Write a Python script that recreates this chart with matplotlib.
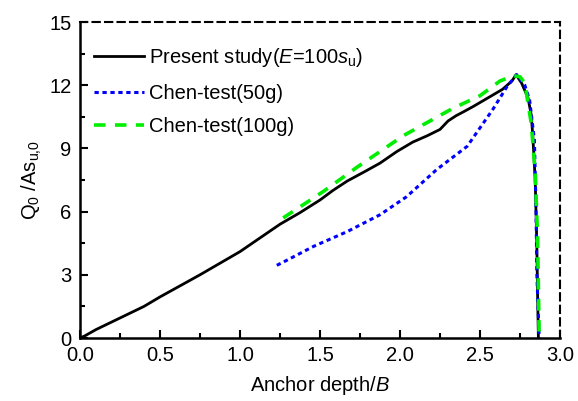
"""Anchor capacity vs depth: present study against Chen centrifuge tests."""

import matplotlib
matplotlib.use("Agg")
import matplotlib.pyplot as plt
from matplotlib.ticker import MultipleLocator

plt.rcParams["font.family"] = ["Liberation Sans", "DejaVu Sans"]
plt.rcParams["mathtext.fontset"] = "custom"
plt.rcParams["mathtext.rm"] = "Liberation Sans"
plt.rcParams["mathtext.it"] = "Liberation Sans:italic"

# Present study (E = 100 s_u)
present_x = [0.0, 0.03, 0.1, 0.25, 0.4, 0.5, 0.75, 1.0, 1.25, 1.375, 1.5, 1.58,
             1.67, 1.78, 1.875, 1.98, 2.08, 2.17, 2.25, 2.3, 2.35, 2.4, 2.46,
             2.55, 2.64, 2.7, 2.725, 2.76, 2.8, 2.82, 2.83, 2.845, 2.855, 2.86,
             2.865]
present_y = [0.0, 0.1, 0.4, 0.95, 1.5, 1.95, 3.0, 4.1, 5.4, 5.95, 6.55, 7.0,
             7.45, 7.9, 8.3, 8.85, 9.3, 9.6, 9.9, 10.3, 10.55, 10.75, 11.0,
             11.4, 11.8, 12.2, 12.5, 12.1, 11.4, 10.6, 9.6, 7.5, 4.5, 2.0, 0.0]

# Chen-test (50g)
chen50_x = [1.23, 1.27, 1.46, 1.67, 1.875, 2.04, 2.23, 2.42, 2.58, 2.67, 2.73,
            2.78, 2.81, 2.84, 2.85, 2.855, 2.87]
chen50_y = [3.45, 3.6, 4.35, 5.05, 5.85, 6.7, 8.0, 9.1, 10.85, 11.95, 12.5,
            12.0, 11.3, 9.4, 6.25, 3.1, 0.0]

# Chen-test (100g)
chen100_x = [1.27, 1.52, 1.73, 2.02, 2.33, 2.5, 2.625, 2.71, 2.75, 2.78, 2.82,
             2.845, 2.86, 2.87]
chen100_y = [5.7, 6.95, 8.1, 9.6, 10.9, 11.5, 12.2, 12.45, 12.4, 12.1, 10.2,
             7.9, 4.7, 0.0]


def main():
    fig = plt.figure(figsize=(5.78, 4.01), dpi=100)
    ax = fig.add_axes([80 / 578, 63 / 401, 480 / 578, 316 / 401])

    ax.plot(present_x, present_y, color="black", lw=2.0,
            label=r"Present study($\mathit{E}$=100$\mathit{s}_{\mathrm{u}}$)")
    ax.plot(chen50_x, chen50_y, color="#0000ff", lw=2.2,
            linestyle=(0, (1.4, 1.2)), label="Chen-test(50g)")
    ax.plot(chen100_x, chen100_y, color="#00ee00", lw=2.6,
            linestyle=(0, (3.2, 2.6)), label="Chen-test(100g)")

    ax.set_xlim(0, 3.0)
    ax.set_ylim(0, 15)
    ax.xaxis.set_major_locator(MultipleLocator(0.5))
    ax.xaxis.set_minor_locator(MultipleLocator(0.25))
    ax.yaxis.set_major_locator(MultipleLocator(3))
    ax.yaxis.set_minor_locator(MultipleLocator(1.5))
    ax.xaxis.set_major_formatter(plt.FormatStrFormatter("%.1f"))
    ax.tick_params(which="both", direction="in", labelsize=14.5, width=1.5,
                   top=False, right=False)
    ax.tick_params(which="major", length=6, pad=6)
    ax.tick_params(which="minor", length=3.5)

    for side in ("left", "bottom"):
        ax.spines[side].set_linewidth(1.8)
    for side in ("top", "right"):
        ax.spines[side].set_linewidth(1.5)
        ax.spines[side].set_linestyle((0, (3.5, 2.5)))

    ax.set_xlabel(r"Anchor depth/$\mathit{B}$", fontsize=14.5, labelpad=6)
    ax.set_ylabel(r"$\mathrm{Q}_{0}$ /$\mathrm{As}_{\mathrm{u{,}0}}$",
                  fontsize=14.5, labelpad=4)

    ax.legend(loc="upper left", frameon=False, fontsize=14.5,
              handlelength=2.5, handletextpad=0.25, labelspacing=0.72,
              borderaxespad=0.3, bbox_to_anchor=(0.0, 0.968))

    fig.savefig("out.png", dpi=100)


if __name__ == "__main__":
    main()
